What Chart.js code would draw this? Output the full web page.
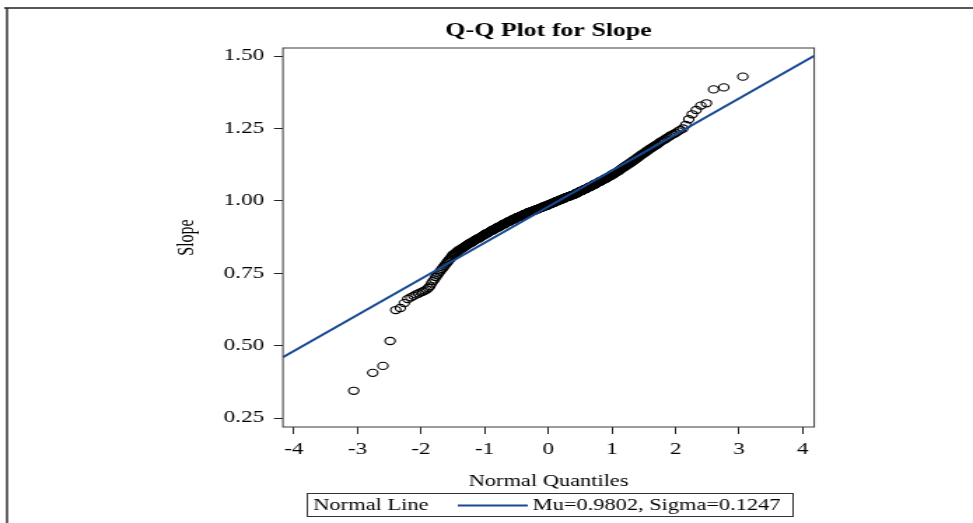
<!DOCTYPE html>
<html>
<head>
<meta charset="utf-8">
<script src="https://cdn.jsdelivr.net/npm/chart.js@4.4.0/dist/chart.umd.min.js"></script>
<style>
  html, body { margin: 0; padding: 0; background: #fff; overflow: hidden; }
  #wrap { width: 695px; height: 523px; transform: scaleX(1.4); transform-origin: 0 0; }
</style>
</head>
<body>
<div id="wrap"><canvas id="chartCanvas" width="695" height="523"></canvas></div>
<script>
// sorted slope estimates, one per observation
let slope = [
  0.344, 0.406, 0.430, 0.516, 0.623, 0.630, 0.647, 0.661, 0.667, 0.672,
  0.677, 0.680, 0.684, 0.687, 0.690, 0.694, 0.699, 0.705, 0.715, 0.723,
  0.729, 0.737, 0.743, 0.749, 0.755, 0.760, 0.765, 0.770, 0.775, 0.780,
  0.784, 0.789, 0.793, 0.797, 0.801, 0.805, 0.810, 0.814,
  0.816, 0.818, 0.820, 0.822, 0.825, 0.827, 0.829, 0.831,
  0.832, 0.834, 0.836, 0.837, 0.839, 0.840, 0.842, 0.843, 0.845,
  0.846, 0.848, 0.849, 0.850, 0.852, 0.853, 0.854, 0.855, 0.857, 0.858,
  0.859, 0.860, 0.861, 0.863, 0.864, 0.865, 0.866, 0.867, 0.868, 0.869, 0.870, 0.871,
  0.872, 0.873, 0.874, 0.875, 0.876, 0.877, 0.878, 0.879, 0.880, 0.881, 0.882, 0.884,
  0.884, 0.885, 0.886, 0.887, 0.888, 0.889, 0.889, 0.890, 0.891, 0.892, 0.893, 0.894, 0.895, 0.896,
  0.896, 0.897, 0.898, 0.899, 0.900, 0.900, 0.901, 0.902, 0.903, 0.903, 0.904, 0.905, 0.906, 0.906, 0.907, 0.908,
  0.908, 0.909, 0.910, 0.911, 0.911, 0.912, 0.913, 0.913, 0.914, 0.915, 0.916, 0.916, 0.917, 0.918, 0.918, 0.919, 0.920,
  0.920, 0.921, 0.922, 0.922, 0.923, 0.923, 0.924, 0.925, 0.925, 0.926, 0.927, 0.927, 0.928, 0.928, 0.929, 0.930, 0.930, 0.931,
  0.931, 0.932, 0.933, 0.933, 0.934, 0.934, 0.935, 0.935, 0.936, 0.937, 0.937, 0.938, 0.938, 0.939, 0.939, 0.940, 0.941, 0.941, 0.942,
  0.942, 0.943, 0.943, 0.944, 0.944, 0.944, 0.945, 0.945, 0.946, 0.946, 0.947, 0.947, 0.948, 0.948, 0.949, 0.949, 0.950, 0.950, 0.950, 0.951,
  0.951, 0.952, 0.952, 0.953, 0.953, 0.954, 0.954, 0.955, 0.955, 0.956, 0.956, 0.957, 0.957, 0.958, 0.958, 0.959, 0.959, 0.960, 0.960, 0.960, 0.961,
  0.961, 0.962, 0.962, 0.962, 0.963, 0.963, 0.963, 0.964, 0.964, 0.964, 0.965, 0.965, 0.965, 0.966, 0.966, 0.966, 0.967, 0.967, 0.968, 0.968, 0.968, 0.969,
  0.969, 0.970, 0.970, 0.970, 0.971, 0.971, 0.972, 0.972, 0.972, 0.973, 0.973, 0.974, 0.974, 0.974, 0.975, 0.975, 0.976, 0.976, 0.976, 0.977, 0.977, 0.978,
  0.978, 0.979, 0.979, 0.979, 0.980, 0.980, 0.980, 0.981, 0.981, 0.982, 0.982, 0.982, 0.983, 0.983, 0.983, 0.984, 0.984, 0.984, 0.985, 0.985, 0.986, 0.986,
  0.986, 0.987, 0.987, 0.988, 0.988, 0.988, 0.989, 0.989, 0.990, 0.990, 0.990, 0.991, 0.991, 0.992, 0.992, 0.993, 0.993, 0.993, 0.994, 0.994, 0.995, 0.995, 0.996,
  0.996, 0.997, 0.997, 0.997, 0.998, 0.998, 0.999, 0.999, 0.999, 1.000, 1.000, 1.001, 1.001, 1.001, 1.002, 1.002, 1.003, 1.003, 1.003, 1.004, 1.004, 1.005,
  1.005, 1.006, 1.006, 1.006, 1.007, 1.007, 1.008, 1.008, 1.008, 1.009, 1.009, 1.010, 1.010, 1.011, 1.011, 1.011, 1.012, 1.012, 1.013, 1.013, 1.014,
  1.014, 1.014, 1.015, 1.015, 1.015, 1.016, 1.016, 1.016, 1.017, 1.017, 1.018, 1.018, 1.018, 1.019, 1.019, 1.019, 1.020, 1.020, 1.021, 1.021, 1.021, 1.022,
  1.022, 1.023, 1.023, 1.024, 1.024, 1.025, 1.026, 1.026, 1.027, 1.027, 1.028, 1.028, 1.029, 1.029, 1.030, 1.031, 1.031, 1.032, 1.032, 1.033,
  1.033, 1.034, 1.034, 1.035, 1.035, 1.036, 1.036, 1.037, 1.038, 1.038, 1.039, 1.039, 1.040, 1.040, 1.041, 1.041, 1.042, 1.042, 1.043,
  1.043, 1.044, 1.045, 1.045, 1.046, 1.047, 1.047, 1.048, 1.048, 1.049, 1.050, 1.050, 1.051, 1.051, 1.052, 1.053, 1.053, 1.054,
  1.054, 1.055, 1.056, 1.057, 1.057, 1.058, 1.059, 1.059, 1.060, 1.061, 1.062, 1.062, 1.063, 1.064, 1.064, 1.065, 1.066,
  1.066, 1.067, 1.068, 1.068, 1.069, 1.070, 1.071, 1.072, 1.072, 1.073, 1.074, 1.075, 1.075, 1.076, 1.077,
  1.077, 1.078, 1.079, 1.080, 1.081, 1.082, 1.083, 1.083, 1.084, 1.085, 1.086, 1.087, 1.088, 1.089, 1.090,
  1.091, 1.092, 1.093, 1.094, 1.095, 1.096, 1.097, 1.098, 1.099, 1.100, 1.101, 1.102, 1.103,
  1.104, 1.106, 1.107, 1.109, 1.110, 1.112, 1.113, 1.114, 1.115, 1.117, 1.118,
  1.119, 1.121, 1.122, 1.124, 1.125, 1.126, 1.128, 1.129, 1.131, 1.132,
  1.134, 1.136, 1.137, 1.139, 1.141, 1.142, 1.144, 1.146, 1.148,
  1.150, 1.152, 1.154, 1.156, 1.158, 1.160, 1.162, 1.164,
  1.166, 1.168, 1.171, 1.173, 1.175, 1.178, 1.180,
  1.182, 1.185, 1.187, 1.190, 1.192, 1.194,
  1.197, 1.201, 1.204, 1.207,
  1.210, 1.213, 1.217, 1.220,
  1.224, 1.228, 1.231, 1.235,
  1.240, 1.245, 1.250,
  1.262, 1.282, 1.299, 1.314, 1.329, 1.337, 1.385, 1.392, 1.429
];

let mu = 0.9802;
let sigma = 0.1247;

let xTicks = [-4, -3, -2, -1, 0, 1, 2, 3, 4];
let yTicks = [0.25, 0.50, 0.75, 1.00, 1.25, 1.50];

let xMin = -4.17, xMax = 4.18;
let yMin = 0.219, yMax = 1.528;

const chartTitle = 'Q-Q Plot for Slope';
const serif = "'Liberation Serif', 'Times New Roman', serif";
const blue = '#174a93';

// inverse normal cdf (Acklam)
function qnorm(p) {
    const a = [-3.969683028665376e+01, 2.209460984245205e+02, -2.759285104469687e+02, 1.383577518672690e+02, -3.066479806614716e+01, 2.506628277459239e+00];
    const b = [-5.447609879822406e+01, 1.615858368580409e+02, -1.556989798598866e+02, 6.680131188771972e+01, -1.328068155288572e+01];
    const c = [-7.784894002430293e-03, -3.223964580411365e-01, -2.400758277161838e+00, -2.549732539343734e+00, 4.374664141464968e+00, 2.938163982698783e+00];
    const d = [7.784695709041462e-03, 3.224671290700398e-01, 2.445134137142996e+00, 3.754408661907416e+00];
    const plow = 0.02425;
    let q, r;
    if (p < plow) {
        q = Math.sqrt(-2 * Math.log(p));
        return (((((c[0]*q+c[1])*q+c[2])*q+c[3])*q+c[4])*q+c[5]) / ((((d[0]*q+d[1])*q+d[2])*q+d[3])*q+1);
    }
    if (p <= 1 - plow) {
        q = p - 0.5;
        r = q * q;
        return (((((a[0]*r+a[1])*r+a[2])*r+a[3])*r+a[4])*r+a[5])*q / (((((b[0]*r+b[1])*r+b[2])*r+b[3])*r+b[4])*r+1);
    }
    q = Math.sqrt(-2 * Math.log(1 - p));
    return -(((((c[0]*q+c[1])*q+c[2])*q+c[3])*q+c[4])*q+c[5]) / ((((d[0]*q+d[1])*q+d[2])*q+d[3])*q+1);
}

// Blom plotting positions
const n = slope.length;
const qqPoints = slope.map((v, i) => ({ x: qnorm((i + 1 - 0.375) / (n + 0.25)), y: v }));
const normalLine = [
    { x: xMin, y: mu + sigma * xMin },
    { x: xMax, y: mu + sigma * xMax }
];

const framePlugin = {
    id: 'frame',
    afterDatasetsDraw(chart) {
        const { ctx, chartArea: a } = chart;
        ctx.save();
        ctx.strokeStyle = '#3a3a3a';
        ctx.lineWidth = 1;
        ctx.strokeRect(a.left, a.top, a.right - a.left, a.bottom - a.top);
        ctx.restore();
    },
    afterDraw(chart) {
        const { ctx, chartArea: a } = chart;
        ctx.save();
        // outer border (top and left)
        ctx.strokeStyle = '#222';
        ctx.lineWidth = 1.4;
        ctx.beginPath();
        ctx.moveTo(3, 8);
        ctx.lineTo(695, 8);
        ctx.moveTo(5, 8);
        ctx.lineTo(5, 523);
        ctx.stroke();

        // title, centred over the plot area
        ctx.fillStyle = '#000';
        ctx.textAlign = 'center';
        ctx.textBaseline = 'middle';
        ctx.font = 'bold 18.5px ' + serif;
        ctx.fillText(chartTitle, (a.left + a.right) / 2, 31);

        // legend box
        ctx.lineWidth = 1;
        ctx.strokeStyle = '#333';
        ctx.strokeRect(219.5, 493.5, 347, 23);
        ctx.font = '16px ' + serif;
        ctx.textAlign = 'left';
        ctx.fillText('Normal Line', 223.8, 505.5);
        ctx.strokeStyle = blue;
        ctx.lineWidth = 2;
        ctx.beginPath();
        ctx.moveTo(327, 505.5);
        ctx.lineTo(377, 505.5);
        ctx.stroke();
        ctx.fillText('Mu=' + mu.toFixed(4) + ', Sigma=' + sigma.toFixed(4), 380.4, 505.5);
        ctx.restore();
    }
};

const canvas = document.getElementById('chartCanvas');
new Chart(canvas, {
    type: 'scatter',
    data: {
        datasets: [
            {
                label: 'Normal Line',
                data: normalLine,
                showLine: true,
                borderColor: blue,
                borderWidth: 2,
                pointRadius: 0,
                fill: false
            },
            {
                label: 'Slope',
                data: qqPoints,
                pointStyle: 'circle',
                pointRadius: 3.6,
                borderWidth: 1.1,
                borderColor: '#000',
                backgroundColor: 'rgba(0,0,0,0)'
            }
        ]
    },
    options: {
        responsive: false,
        animation: false,
        layout: { padding: { left: 124, right: 113.4, top: 48, bottom: 0 } },
        plugins: {
            legend: { display: false },
            tooltip: { enabled: false },
            title: { display: false }
        },
        scales: {
            x: {
                type: 'linear',
                min: xMin,
                max: xMax,
                afterBuildTicks: (scale) => { scale.ticks = xTicks.map(v => ({ value: v })); },
                afterFit: (scale) => { scale.height = 96; },
                border: { display: false },
                grid: { drawOnChartArea: false, drawTicks: true, tickLength: 7, color: '#222' },
                ticks: {
                    color: '#000',
                    padding: 6,
                    maxRotation: 0,
                    font: { family: serif, size: 16.5 },
                    callback: (v) => String(v)
                },
                title: {
                    display: true,
                    text: 'Normal Quantiles',
                    color: '#000',
                    font: { family: serif, size: 16, lineHeight: 1.2 },
                    padding: { top: 0, bottom: 32 }
                }
            },
            y: {
                type: 'linear',
                min: yMin,
                max: yMax,
                afterBuildTicks: (scale) => { scale.ticks = yTicks.map(v => ({ value: v })); },
                afterFit: (scale) => { scale.width = 78.1; },
                border: { display: false },
                grid: { drawOnChartArea: false, drawTicks: true, tickLength: 6.4, color: '#222' },
                ticks: {
                    color: '#000',
                    padding: 7,
                    font: { family: serif, size: 16.5 },
                    callback: (v) => Number(v).toFixed(2)
                },
                title: {
                    display: true,
                    text: 'Slope',
                    color: '#000',
                    font: { family: serif, size: 16, lineHeight: 1.2 },
                    padding: { top: 0, bottom: 0 }
                }
            }
        }
    },
    plugins: [framePlugin]
});
</script>
</body>
</html>
